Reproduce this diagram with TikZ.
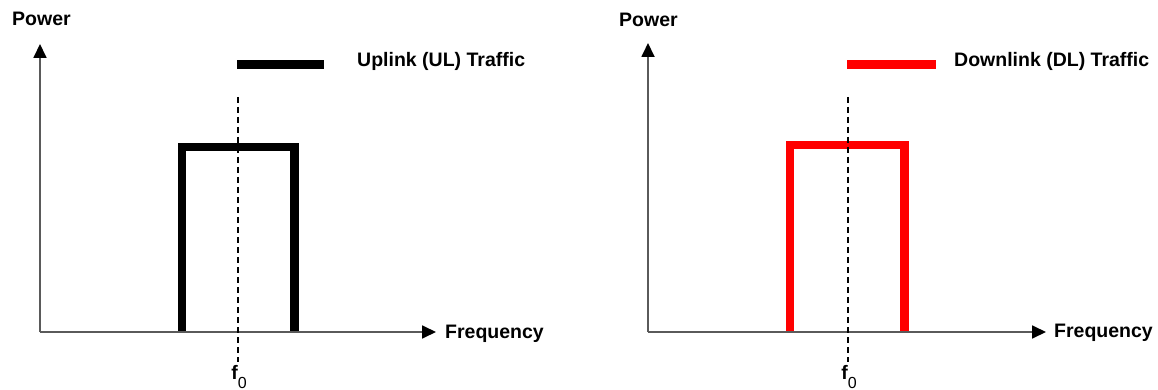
\documentclass[tikz,border=0pt]{standalone}
\usepackage{fontspec}
\setmainfont{Liberation Sans}
\usetikzlibrary{arrows.meta}
\definecolor{axisgray}{HTML}{5A5A5A}
\definecolor{dlred}{HTML}{FF0000}
\begin{document}
\begin{tikzpicture}[x=1pt,y=-1pt,
  axisline/.style={draw=axisgray,line width=1.8pt,-{Triangle[length=14pt,width=13pt,color=black]}},
  lbl/.style={font=\bfseries\fontsize{19.5}{23}\selectfont,inner sep=0pt,anchor=base west},
  flbl/.style={font=\bfseries\fontsize{19.5}{24}\selectfont,inner sep=0pt,anchor=base},
  band/.style={line width=8.2pt,miter limit=10,line join=miter},
  legendbar/.style={line width=9pt},
  center/.style={draw=black,line width=1.1pt,dash pattern=on 6pt off 4pt}]
\useasboundingbox (0,0) rectangle (1158,390);

% ---------- left panel (UL) ----------
\coordinate (O1) at (40,332);
\coordinate (Y1) at (40,44);
\coordinate (X1) at (436,332);
\coordinate (B1a) at (182,332);
\coordinate (B1b) at (182,147);
\coordinate (B1c) at (294.5,147);
\coordinate (B1d) at (294.5,332);
\coordinate (L1a) at (237,64.5);
\coordinate (L1b) at (324,64.5);
\coordinate (C1a) at (238,97);
\coordinate (C1b) at (238,362);
\draw[band,black] (B1a) -- (B1b) -- (B1c) -- (B1d);
\draw[axisline] (O1) -- (Y1);
\draw[axisline] (O1) -- (X1);
\draw[legendbar,black] (L1a) -- (L1b);
\draw[center] (C1a) -- (C1b);
\node[lbl] (P1) at (12,26) {Power};
\node[lbl] (F1) at (445,338) {Frequency};
\node[lbl] (T1) at (357,67) {Uplink (UL) Traffic};
\node[flbl] (f1) at (239,379) {f\raisebox{-9pt}{\mdseries\fontsize{16}{18}\selectfont 0}};

% ---------- right panel (DL) ----------
\coordinate (O2) at (648,332);
\coordinate (Y2) at (648,43);
\coordinate (X2) at (1046,332);
\coordinate (B2a) at (790,332);
\coordinate (B2b) at (790,145);
\coordinate (B2c) at (904.5,145);
\coordinate (B2d) at (904.5,332);
\coordinate (L2a) at (847,64.5);
\coordinate (L2b) at (936,64.5);
\coordinate (C2a) at (848,97);
\coordinate (C2b) at (848,362);
\draw[band,dlred] (B2a) -- (B2b) -- (B2c) -- (B2d);
\draw[axisline] (O2) -- (Y2);
\draw[axisline] (O2) -- (X2);
\draw[legendbar,dlred] (L2a) -- (L2b);
\draw[center] (C2a) -- (C2b);
\node[lbl] (P2) at (619,27) {Power};
\node[lbl] (F2) at (1054,337) {Frequency};
\node[lbl] (T2) at (954,67) {Downlink (DL) Traffic};
\node[flbl] (f2) at (849,379) {f\raisebox{-9pt}{\mdseries\fontsize{16}{18}\selectfont 0}};
\end{tikzpicture}
\end{document}
